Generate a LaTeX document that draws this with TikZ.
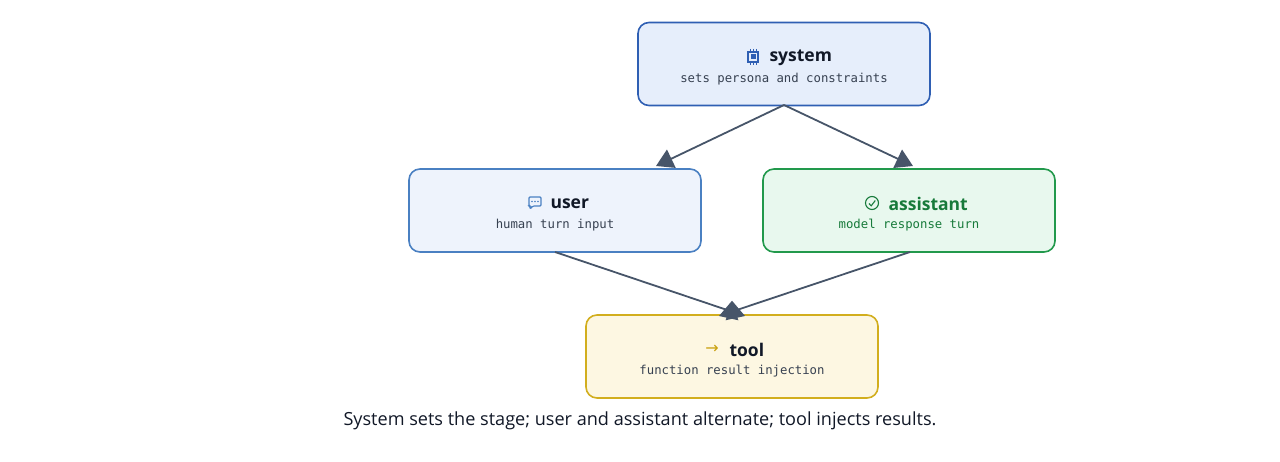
\documentclass[tikz,border=0pt]{standalone}
\usepackage{fontspec}
\setmainfont{Open Sans}
\setmonofont{DejaVu Sans Mono}
\newfontfamily\dejavu{DejaVu Sans}
\usetikzlibrary{arrows.meta}
\definecolor{ink}{HTML}{111827}
\definecolor{sub}{HTML}{374151}
\definecolor{conn}{HTML}{475569}
\definecolor{sysb}{HTML}{2F5FB3}\definecolor{sysf}{HTML}{E6EEFB}
\definecolor{usrb}{HTML}{4A80C2}\definecolor{usrf}{HTML}{EEF3FC}
\definecolor{astb}{HTML}{22994C}\definecolor{astf}{HTML}{E8F8EE}\definecolor{astt}{HTML}{177A3A}
\definecolor{toolb}{HTML}{D2AE1E}\definecolor{toolf}{HTML}{FDF7E2}\definecolor{tooli}{HTML}{C9A10F}
\begin{document}
\begin{tikzpicture}[x=1pt,y=-1pt,
 box/.style={draw,line width=1.6pt,rounded corners=11pt,minimum width=292pt,minimum height=83pt,inner sep=0pt},
 ttl/.style={font=\bfseries\fontsize{17.5}{20}\selectfont},
 sb/.style={font=\ttfamily\fontsize{12.3}{14}\selectfont,text=sub},
 arr/.style={draw=conn,line width=1.8pt,-{Triangle[length=17pt,width=20pt]}}]
\useasboundingbox (0,0) rectangle (1280,462);
\node[box,draw=sysb,fill=sysf] (sys) at (784,64) {};
\node[box,draw=usrb,fill=usrf] (usr) at (555,210.5) {};
\node[box,draw=astb,fill=astf] (ast) at (909,210.5) {};
\node[box,draw=toolb,fill=toolf] (tool) at (732,356.5) {};
% texts
\node[ttl,text=ink,anchor=west] (st) at (766,58) {system};
\node[sb] (ss) at (784,79) {sets persona and constraints};
\node[ttl,text=ink,anchor=west] (ut) at (547,204) {user};
\node[sb] (us) at (555,225) {human turn input};
\node[ttl,text=astt,anchor=west] (at) at (885,204) {assistant};
\node[sb,text=astt] (as) at (909,225) {model response turn};
\node[ttl,text=ink,anchor=west] (tt) at (726,350) {tool};
\node[sb] (ts) at (732,371) {function result injection};
\node[font=\dejavu\fontsize{16}{17}\selectfont,text=tooli] (ti) at (712,349) {→};
% icons
\draw[sysb,line width=1.2pt] (748,52) rectangle (758,62);
\fill[sysb] (750.5,54.5) rectangle (755.5,59.5);
\foreach \d in {750,753,756}{\draw[sysb,line width=0.8pt] (\d,49)--(\d,52) (\d,62)--(\d,65) (745,\d+2)--(748,\d+2) (758,\d+2)--(761,\d+2);}
\draw[usrb,line width=1.1pt,rounded corners=1pt] (529,197)--(541,197)--(541,206)--(533,206)--(530,209)--(530,206)--(529,206)--cycle;
\fill[usrb] (532,201.5) circle(0.8) (535,201.5) circle(0.8) (538,201.5) circle(0.8);
\draw[astt,line width=1.1pt] (872,203) circle(6.5);
\draw[astt,line width=1.1pt] (869,203.5)--(871.2,205.8)--(875.3,200.5);
\node[font=\fontsize{18.1}{21}\selectfont,text=ink] (cap) at (640,421) {System sets the stage; user and assistant alternate; tool injects results.};
% connectors
\coordinate (s1) at (784,105); \coordinate (u1) at (656,166);
\coordinate (a1) at (913,166);
\draw[arr] (s1)--(u1);
\draw[arr] (s1)--(a1);
\coordinate (u2) at (555,252); \coordinate (t1) at (745,316);
\coordinate (a2) at (910,252); \coordinate (t2) at (719,316);
\draw[arr] (u2)--(t1);
\draw[arr] (a2)--(t2);
\end{tikzpicture}
\end{document}
